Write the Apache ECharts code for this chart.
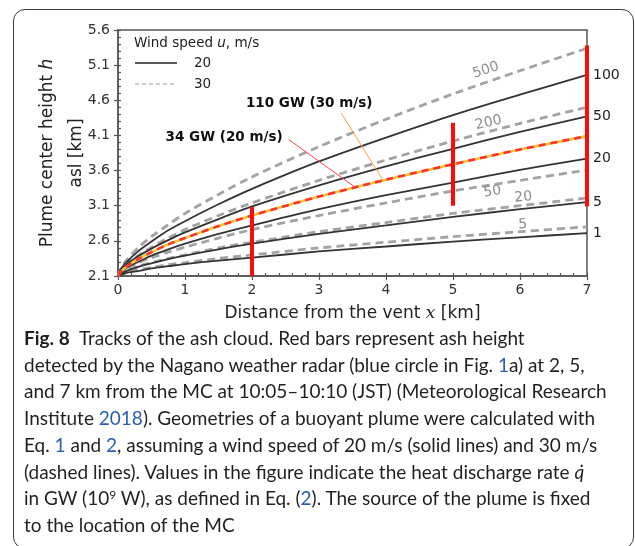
<!DOCTYPE html>
<html><head><meta charset="utf-8">
<script src="https://cdn.jsdelivr.net/npm/echarts@6/dist/echarts.min.js"></script>
<style>
html,body{margin:0;padding:0;background:#fff;}
#wrap{position:relative;width:635px;height:546px;overflow:hidden;background:#fff;}
#frame{position:absolute;left:13px;top:9px;width:621px;height:540px;border:1.5px solid #3a3a3a;border-radius:12px;box-sizing:border-box;}
#chart{position:absolute;left:0;top:0;width:635px;height:546px;}
#cap{position:absolute;left:24px;top:325px;font-family:Lato,sans-serif;font-size:19px;line-height:26.7px;color:#231f20;white-space:nowrap;}
#cap .l{color:#2a5db0}
#cap sup{font-size:12px;line-height:0;vertical-align:6px;}
</style></head><body>
<div id="wrap">
<div id="frame"></div>
<div id="chart"></div>
<div id="cap"><b>Fig. 8</b>&nbsp; Tracks of the ash cloud. Red bars represent ash height<br>
detected by the Nagano weather radar (blue circle in Fig. <span class="l">1</span>a) at 2, 5,<br>
and 7 km from the MC at 10:05–10:10 (JST) (Meteorological Research<br>
Institute <span class="l">2018</span>). Geometries of a buoyant plume were calculated with<br>
Eq. <span class="l">1</span> and <span class="l">2</span>, assuming a wind speed of 20 m/s (solid lines) and 30 m/s<br>
(dashed lines). Values in the figure indicate the heat discharge rate <i>q&#775;</i><br>
in GW (10<sup>9</sup> W), as defined in Eq. (<span class="l">2</span>). The source of the plume is fixed<br>
to the location of the MC</div>
</div>
<script>
// ---- data ----
const xs        = [0, 0.05, 0.15, 0.3, 0.5, 0.75, 1, 1.5, 2, 3, 4, 5, 6, 7];
const solid1    = [2.1, 2.12, 2.15, 2.17, 2.21, 2.24, 2.27, 2.32, 2.36, 2.45, 2.52, 2.59, 2.65, 2.71];
const solid5    = [2.1, 2.14, 2.18, 2.23, 2.28, 2.34, 2.39, 2.48, 2.56, 2.70, 2.82, 2.94, 3.05, 3.15];
const solid20   = [2.1, 2.16, 2.23, 2.30, 2.39, 2.48, 2.56, 2.70, 2.82, 3.05, 3.25, 3.43, 3.61, 3.77];
const solid50   = [2.1, 2.18, 2.28, 2.38, 2.49, 2.61, 2.72, 2.91, 3.09, 3.39, 3.66, 3.91, 4.15, 4.37];
const solid100  = [2.1, 2.21, 2.32, 2.45, 2.59, 2.75, 2.88, 3.12, 3.34, 3.73, 4.07, 4.39, 4.68, 4.96];
const dashed5   = [2.1, 2.13, 2.15, 2.19, 2.22, 2.26, 2.29, 2.35, 2.40, 2.50, 2.58, 2.66, 2.73, 2.80];
const dashed20  = [2.1, 2.14, 2.19, 2.24, 2.29, 2.35, 2.40, 2.50, 2.58, 2.73, 2.86, 2.99, 3.10, 3.21];
const dashed50  = [2.1, 2.16, 2.22, 2.29, 2.36, 2.44, 2.51, 2.64, 2.76, 2.96, 3.14, 3.31, 3.46, 3.61];
const dashed200 = [2.1, 2.19, 2.29, 2.39, 2.51, 2.64, 2.76, 2.96, 3.14, 3.46, 3.75, 4.02, 4.27, 4.50];
const dashed500 = [2.1, 2.22, 2.35, 2.50, 2.66, 2.83, 2.99, 3.26, 3.51, 3.94, 4.33, 4.69, 5.02, 5.34];
const matched   = [2.1, 2.17, 2.25, 2.34, 2.44, 2.55, 2.64, 2.81, 2.96, 3.23, 3.47, 3.69, 3.90, 4.09]; // 34 GW @20 m/s = 110 GW @30 m/s
const barX      = [2, 5, 7];
const barLow    = [2.1, 3.10, 3.09];
const barHigh   = [3.08, 4.28, 5.38];
const xTickLabels = ['0','1','2','3','4','5','6','7'];
const yTickLabels = ['2.1','2.6','3.1','3.6','4.1','4.6','5.1','5.6'];

const BASE = 2.1;
const FONT = 'DejaVu Sans';
const AX = '#555';
const SMOOTH = 0.3;

const chart = echarts.init(document.getElementById('chart'), null, {renderer:'canvas'});

function pts(ys){ return xs.map((x,i)=>[x, ys[i]-BASE]); }
function solid(name, ys, label){
  return {type:'line', name, data:pts(ys), symbol:'none', smooth:SMOOTH,
    lineStyle:{color:'#333', width:1.8}, z:3, silent:true,
    endLabel: label ? {show:true, formatter:name, color:'#222', fontSize:14, fontFamily:FONT, distance:6} : {show:false}};
}
function dashed(name, ys){
  return {type:'line', name, data:pts(ys), symbol:'none', smooth:SMOOTH,
    lineStyle:{color:'#a3a3a3', width:2.8, type:[8,5]}, z:2, silent:true};
}

const series = [
  dashed('d5', dashed5), dashed('d20', dashed20), dashed('d50', dashed50),
  dashed('d200', dashed200), dashed('d500', dashed500),
  solid('1', solid1, true), solid('5', solid5, true), solid('20', solid20, true),
  solid('50', solid50, true), solid('100', solid100, true),
  {type:'line', name:'m-y', data:pts(matched), symbol:'none', smooth:SMOOTH,
    lineStyle:{color:'#f7c531', width:2.6}, z:4, silent:true},
  {type:'line', name:'m-r', data:pts(matched), symbol:'none', smooth:SMOOTH,
    lineStyle:{color:'#ff3030', width:2.6, type:[7,5]}, z:5, silent:true},
  {type:'custom', name:'radar', z:10, silent:true,
    data: barX.map((x,i)=>[x, barLow[i]-BASE, barHigh[i]-BASE]),
    encode:{x:0, y:[1,2]},
    renderItem:(params, api)=>{
      const p1 = api.coord([api.value(0), api.value(1)]);
      const p2 = api.coord([api.value(0), api.value(2)]);
      return {type:'line', shape:{x1:p1[0], y1:p1[1], x2:p2[0], y2:p2[1]},
        style:{stroke:'#ff0a0a', lineWidth:4}};
    }}
];

const option = {
  animation:false,
  grid:{left:118, right:48, top:30, bottom:270, outerBoundsMode:'none', containLabel:false,
        show:true, borderColor:AX, borderWidth:1.5, backgroundColor:'transparent'},
  xAxis:[
    {type:'value', min:0, max:7, interval:1,
     axisLine:{lineStyle:{color:AX, width:1.5}},
     axisTick:{inside:true, length:3, lineStyle:{color:AX, width:1.2}},
     minorTick:{show:true, splitNumber:5, length:3, lineStyle:{color:AX, width:1.2}},
     splitLine:{show:false},
     axisLabel:{fontSize:14, color:'#333', fontFamily:FONT, margin:7,
       formatter:(v)=>xTickLabels[Math.round(v)]},
     name:'Distance from the vent {i|x} [km]', nameLocation:'middle', nameGap:29, nameMoveOverlap:false,
     nameTextStyle:{fontSize:17, color:'#222', fontFamily:FONT, verticalAlign:'top',
       rich:{i:{fontSize:17, fontFamily:'DejaVu Serif', fontStyle:'italic', color:'#222'}}}},
    {type:'value', min:0, max:7, interval:1, position:'bottom',
     axisLine:{show:false}, axisLabel:{show:false}, splitLine:{show:false},
     axisTick:{length:4, lineStyle:{color:AX, width:1.2}}}
  ],
  yAxis:[
    {type:'value', min:0, max:3.5, interval:0.5,
     axisLine:{lineStyle:{color:AX, width:1.5}},
     axisTick:{inside:true, length:3, lineStyle:{color:AX, width:1.2}},
     minorTick:{show:true, splitNumber:5, length:3, lineStyle:{color:AX, width:1.2}},
     splitLine:{show:false},
     axisLabel:{fontSize:14, color:'#333', fontFamily:FONT, margin:8,
       formatter:(v)=>yTickLabels[Math.round(v/0.5)]},
     name:'Plume center height {i|h}\nasl [km]', nameLocation:'middle', nameGap:27, nameRotate:90, nameMoveOverlap:false,
     nameTextStyle:{fontSize:17, color:'#222', fontFamily:FONT, lineHeight:29, align:'center',
       rich:{i:{fontSize:17, fontFamily:FONT, fontStyle:'italic', color:'#222', lineHeight:29}}}},
    {type:'value', min:0, max:3.5, interval:0.5, position:'left',
     axisLine:{show:false}, axisLabel:{show:false}, splitLine:{show:false},
     axisTick:{length:4, lineStyle:{color:AX, width:1.2}}}
  ],
  series
};
chart.setOption(option);

// annotations placed in data coordinates
function P(x, h){ return chart.convertToPixel({xAxisIndex:0, yAxisIndex:0}, [x, h-BASE]); }
const gray = '#8c8c8c';
function curveLabel(text, x, h, deg){
  const p = P(x, h);
  return {type:'text', x:p[0], y:p[1], rotation:deg*Math.PI/180, z:20,
    style:{text, fill:gray, fontSize:14, fontFamily:FONT, align:'center', verticalAlign:'middle'}};
}
function leader(x1,h1,x2,h2,color){
  const a = P(x1,h1), b = P(x2,h2);
  return {type:'line', z:20, shape:{x1:a[0],y1:a[1],x2:b[0],y2:b[1]}, style:{stroke:color, lineWidth:1}};
}
const lblA = P(1.91, 4.55), lblB = P(0.71, 4.07);
const graphic = [
  // legend
  {type:'text', x:134, y:43, z:20, style:{text:'Wind speed {i|u}, m/s', fill:'#222', fontSize:13.5, fontFamily:FONT,
     verticalAlign:'middle', rich:{i:{fontStyle:'italic', fontSize:13.5, fontFamily:FONT, fill:'#222'}}}},
  {type:'line', z:20, shape:{x1:135, y1:63, x2:177, y2:63}, style:{stroke:'#222', lineWidth:1.5}},
  {type:'text', x:194, y:63, z:20, style:{text:'20', fill:'#222', fontSize:13.5, fontFamily:FONT, verticalAlign:'middle'}},
  {type:'line', z:20, shape:{x1:135, y1:84, x2:177, y2:84}, style:{stroke:'#999', lineWidth:1.2, lineDash:[4,3]}},
  {type:'text', x:194, y:84, z:20, style:{text:'30', fill:'#222', fontSize:13.5, fontFamily:FONT, verticalAlign:'middle'}},
  // bold annotations
  {type:'text', x:lblA[0], y:lblA[1], z:20, style:{text:'110 GW (30 m/s)', fill:'#111', fontSize:13.5, fontWeight:'bold', fontFamily:FONT, verticalAlign:'middle'}},
  {type:'text', x:lblB[0], y:lblB[1], z:20, style:{text:'34 GW (20 m/s)', fill:'#111', fontSize:13.5, fontWeight:'bold', fontFamily:FONT, verticalAlign:'middle'}},
  leader(3.33, 4.42, 3.95, 3.47, '#f5a040'),
  leader(2.55, 4.04, 3.53, 3.37, '#ff4040'),
  // curve labels
  curveLabel('500', 5.49, 5.03, 18),
  curveLabel('200', 5.53, 4.28, 13),
  curveLabel('50', 5.59, 3.30, 9),
  curveLabel('20', 6.05, 3.22, 6),
  curveLabel('5', 6.04, 2.83, 3)
];
chart.setOption({graphic});
</script>
</body></html>
